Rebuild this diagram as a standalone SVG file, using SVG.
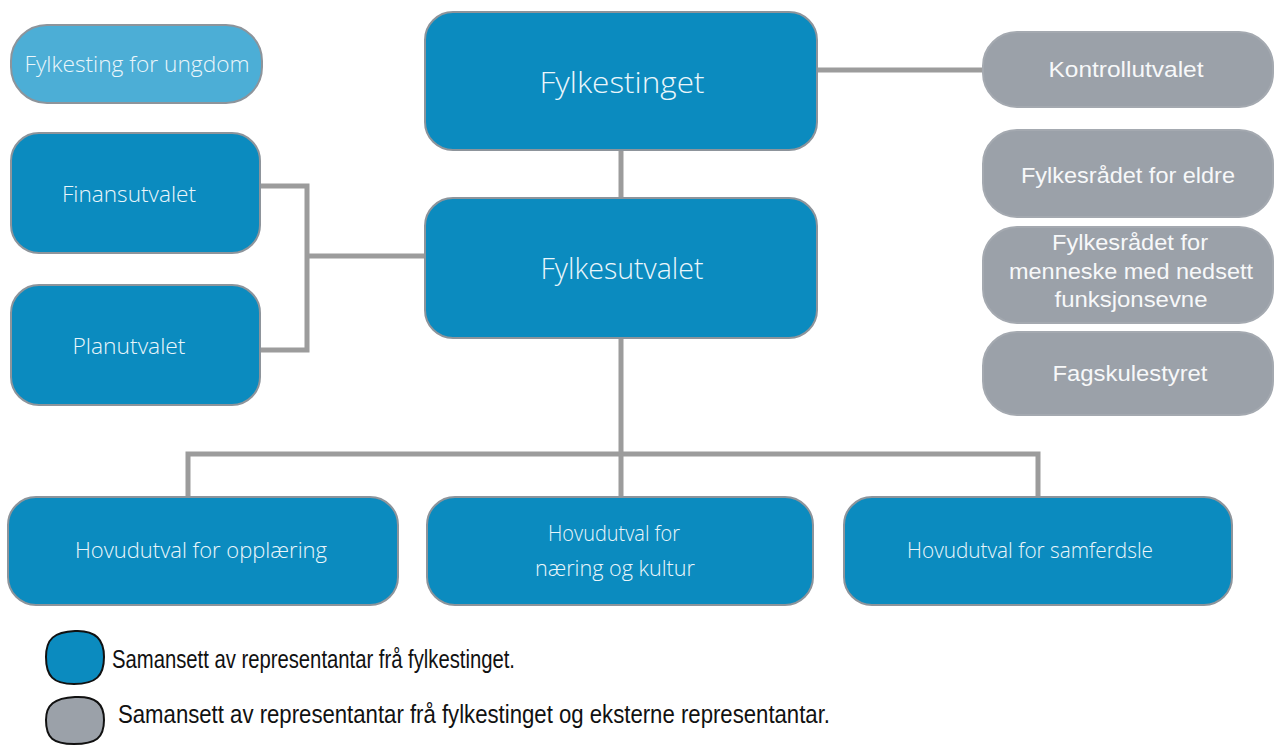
<svg xmlns="http://www.w3.org/2000/svg" width="1275" height="745" viewBox="0 0 1275 745">
<style>
.b{fill:#0b8bbf;stroke:#8d949b;stroke-width:2}
.lb{fill:#4caed6;stroke:#8d949b;stroke-width:2}
.g{fill:#9ba1a9;stroke:#a4a9b0;stroke-width:2}
.t{font-family:"Open Sans","Liberation Sans",sans-serif;font-weight:300;fill:#eaf6fb;text-anchor:middle;font-size:22px}
.t.big{font-size:30px}
.tg{font-family:"Liberation Sans","DejaVu Sans",sans-serif;fill:#f7f8f9;text-anchor:middle;font-size:22px}
.c{fill:none;stroke:#9c9c9c;stroke-width:5}
.leg{font-family:"Liberation Sans","DejaVu Sans",sans-serif;fill:#111;font-size:25px}
</style>
<g id="connectors">
<path class="c" d="M621 150V198"/>
<path class="c" d="M817 70H984"/>
<path class="c" d="M260 186H307V350H260M307 256H426"/>
<path class="c" d="M621 338V497M188 497V454H1038V497"/>
</g>
<g id="ungdom"><rect class="lb" x="11" y="25" width="251" height="78" rx="36"/><text class="t" x="137" y="72" textLength="225" lengthAdjust="spacingAndGlyphs">Fylkesting for ungdom</text></g>
<g id="fylkestinget"><rect class="b" x="425" y="12" width="392" height="138" rx="28"/><text class="t big" x="622" y="93" textLength="165" lengthAdjust="spacingAndGlyphs">Fylkestinget</text></g>
<g id="fylkesutvalet"><rect class="b" x="425" y="198" width="392" height="140" rx="28"/><text class="t big" x="622" y="279" textLength="163" lengthAdjust="spacingAndGlyphs">Fylkesutvalet</text></g>
<g id="finansutvalet"><rect class="b" x="11" y="133" width="249" height="120" rx="28"/><text class="t" x="129" y="202" textLength="134" lengthAdjust="spacingAndGlyphs">Finansutvalet</text></g>
<g id="planutvalet"><rect class="b" x="11" y="285" width="249" height="120" rx="28"/><text class="t" x="129" y="354" textLength="113" lengthAdjust="spacingAndGlyphs">Planutvalet</text></g>
<g id="kontrollutvalet"><rect class="g" x="983" y="32" width="290" height="75" rx="34"/><text class="tg" x="1126" y="77" textLength="155" lengthAdjust="spacingAndGlyphs">Kontrollutvalet</text></g>
<g id="eldre"><rect class="g" x="983" y="130" width="290" height="87" rx="34"/><text class="tg" x="1128" y="183" textLength="214" lengthAdjust="spacingAndGlyphs">Fylkesrådet for eldre</text></g>
<g id="funksjonsevne"><rect class="g" x="983" y="227" width="290" height="96" rx="34"/><text class="tg" x="1130" y="250" textLength="156" lengthAdjust="spacingAndGlyphs">Fylkesrådet for</text><text class="tg" x="1131" y="279" textLength="244" lengthAdjust="spacingAndGlyphs">menneske med nedsett</text><text class="tg" x="1131" y="307" textLength="153" lengthAdjust="spacingAndGlyphs">funksjonsevne</text></g>
<g id="fagskulestyret"><rect class="g" x="983" y="332" width="290" height="83" rx="34"/><text class="tg" x="1130" y="381" textLength="155" lengthAdjust="spacingAndGlyphs">Fagskulestyret</text></g>
<g id="opplaering"><rect class="b" x="8" y="497" width="390" height="108" rx="28"/><text class="t" x="201" y="558" textLength="252" lengthAdjust="spacingAndGlyphs">Hovudutval for opplæring</text></g>
<g id="naering"><rect class="b" x="427" y="497" width="386" height="108" rx="28"/><text class="t" x="614" y="541" textLength="132" lengthAdjust="spacingAndGlyphs">Hovudutval for</text><text class="t" x="615" y="576" textLength="160" lengthAdjust="spacingAndGlyphs">næring og kultur</text></g>
<g id="samferdsle"><rect class="b" x="844" y="497" width="388" height="108" rx="28"/><text class="t" x="1030" y="558" textLength="246" lengthAdjust="spacingAndGlyphs">Hovudutval for samferdsle</text></g>
<g id="legend">
<path d="M75 631C96 630 104 640 104 657C104 676 96 684 74 684C53 684 46 676 46 657C46 639 54 632 75 631Z" fill="#0b8bbf" stroke="#111" stroke-width="2"/>
<text class="leg" x="112" y="668" textLength="403" lengthAdjust="spacingAndGlyphs">Samansett av representantar frå fylkestinget.</text>
<path d="M75 697C96 696 104 704 104 720C104 738 96 744 74 744C53 744 46 738 46 720C46 705 54 698 75 697Z" fill="#9ba1a9" stroke="#111" stroke-width="2"/>
<text class="leg" x="118" y="723" textLength="712" lengthAdjust="spacingAndGlyphs">Samansett av representantar frå fylkestinget og eksterne representantar.</text>
</g>
</svg>
